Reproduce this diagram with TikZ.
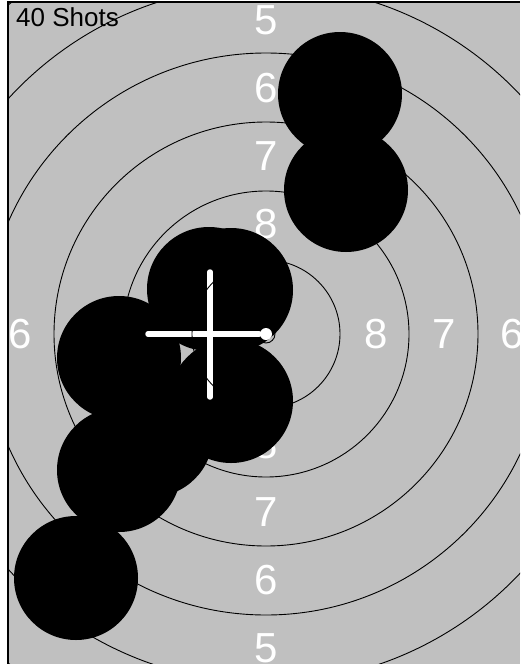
\documentclass[tikz,border=0pt]{standalone}
\usepackage{fontspec}
\setmainfont{Liberation Sans}
\usepackage{xcolor}
\usepackage{tikz}
\usetikzlibrary{positioning}

\definecolor{targetgray}{HTML}{C0C0C0}

\begin{document}
\begin{tikzpicture}[
    x=1pt, y=-1pt,
    ringline/.style={draw=black, line width=0.9pt},
    ringlabel/.style={text=white, inner sep=0pt, font=\fontsize{42}{42}\selectfont},
    shothole/.style={fill=black},
    crossbar/.style={draw=white, line width=5.5pt, line cap=round}
]
    \useasboundingbox (0,0) rectangle (520,664);
    \fill [targetgray] (9,3) rectangle (520,664);
    \draw [line width=1.6pt] (8,664) -- (8,2) -- (520,2);

    \coordinate (centre) at (266,334);

    \begin{scope}
        \clip (9,3) rectangle (520,664);

        % ring numbers
        \foreach \num/\rad in {8/110, 7/178, 6/246, 5/314} {
            \node [ringlabel] (top\num) at (266,{334-\rad}) {\num};
            \node [ringlabel] (bottom\num) at (266,{334+\rad}) {\num};
            \node [ringlabel] (left\num) at ({266-\rad},334) {\num};
            \node [ringlabel] (right\num) at ({266+\rad},334) {\num};
        }

        \node [anchor=base west, inner sep=0pt, font=\fontsize{26}{26}\selectfont] (shotcount) at (16,26) {40 Shots};

        % shot holes
        \foreach \sx/\sy in {340/94, 346/190, 209/289, 231/290, 231/401, 119/358, 151/435, 119/470, 76/578}
            \fill [shothole] (\sx,\sy) circle [radius=62];

        \draw [ringline] (centre) circle [radius=9];

        % mean point of impact
        \draw [crossbar] (148,334) -- (259,334);
        \draw [crossbar] (210,272) -- (210,397);
        \fill [white] (centre) circle [radius=6];

        \foreach \rad in {74,143,212,281,349,418}
            \draw [ringline] (centre) circle [radius=\rad];
    \end{scope}
\end{tikzpicture}
\end{document}
